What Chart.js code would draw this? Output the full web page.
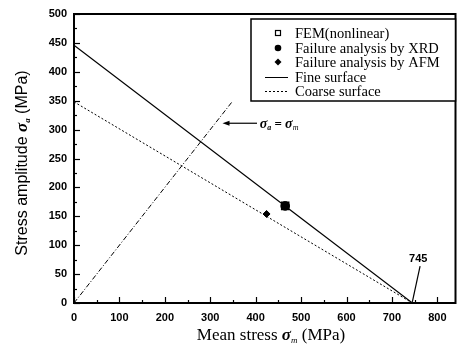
<!DOCTYPE html>
<html>
<head>
<meta charset="utf-8">
<script src="https://cdn.jsdelivr.net/npm/chart.js@4"></script>
<style>
  html, body { margin: 0; padding: 0; background: #fff; }
  #wrap { width: 462px; height: 349px; }
</style>
</head>
<body>
<div id="wrap"><canvas id="goodman"></canvas></div>
<script>
// data (MPa)
const fineX = [0, 745];
const fineY = [446, 0];
const coarseX = [0, 745];
const coarseY = [348, 0];
const equalX = [0, 348];
const equalY = [0, 348];
const femX = [465], femY = [168];
const xrdX = [465], xrdY = [168];
const afmX = [424], afmY = [154];
const xTicks = [0, 100, 200, 300, 400, 500, 600, 700, 800];
const yTicks = [0, 50, 100, 150, 200, 250, 300, 350, 400, 450, 500];
const legendLabels = ['FEM(nonlinear)', 'Failure analysis by XRD', 'Failure analysis by AFM', 'Fine surface', 'Coarse surface'];

function pts(xs, ys) {
    return xs.map((x, i) => ({ x: x, y: ys[i] }));
}

// draw a run of text pieces centred on cx
function drawPieces(ctx, pieces, cx, cy) {
    let total = 0;
    pieces.forEach(p => { ctx.font = p.font; p.w = ctx.measureText(p.text).width; total += p.w; });
    let x = cx - total / 2;
    ctx.textAlign = 'left';
    ctx.textBaseline = 'middle';
    pieces.forEach(p => {
        ctx.font = p.font;
        ctx.fillText(p.text, x, cy + (p.dy || 0));
        x += p.w;
    });
}

const serif = '"Liberation Serif", "DejaVu Serif", serif';
const sans = '"Liberation Sans", Arial, sans-serif';

const extras = {
    id: 'extras',
    afterDatasetsDraw(chart) {
        const ctx = chart.ctx;
        const xs = chart.scales.x, ys = chart.scales.y;
        const a = chart.chartArea;
        ctx.save();
        ctx.strokeStyle = '#000';
        ctx.fillStyle = '#000';

        // inward ticks
        ctx.lineWidth = 1.2;
        for (let v = 0; v <= 840; v += 50) {
            const px = Math.round(xs.getPixelForValue(v)) + 0.5;
            const len = v % 100 === 0 ? 6 : 3;
            ctx.beginPath(); ctx.moveTo(px, a.bottom); ctx.lineTo(px, a.bottom - len); ctx.stroke();
        }
        for (let v = 0; v <= 500; v += 25) {
            const py = Math.round(ys.getPixelForValue(v)) + 0.5;
            const len = v % 50 === 0 ? 6 : 3;
            ctx.beginPath(); ctx.moveTo(a.left, py); ctx.lineTo(a.left + len, py); ctx.stroke();
        }

        // frame
        ctx.lineWidth = 2;
        ctx.strokeRect(a.left, a.top, a.right - a.left, a.bottom - a.top);

        // sigma_a = sigma_m arrow
        const ay = ys.getPixelForValue(311);
        const ax1 = xs.getPixelForValue(327), ax2 = xs.getPixelForValue(403);
        ctx.lineWidth = 1.2;
        ctx.beginPath(); ctx.moveTo(ax2, ay); ctx.lineTo(ax1 + 4, ay); ctx.stroke();
        ctx.beginPath(); ctx.moveTo(ax1, ay); ctx.lineTo(ax1 + 7, ay - 2.5); ctx.lineTo(ax1 + 7, ay + 2.5); ctx.closePath(); ctx.fill();
        drawPieces(ctx, [
            { text: 'σ', font: 'italic bold 14px ' + serif },
            { text: 'a', font: 'italic bold 8px ' + serif, dy: 4 },
            { text: ' = ', font: 'bold 13px ' + serif },
            { text: 'σ', font: 'italic bold 14px ' + serif },
            { text: 'm', font: 'italic 8px ' + serif, dy: 4 }
        ], ax2 + 22, ay + 1);

        // 745 callout
        ctx.lineWidth = 1.2;
        ctx.beginPath();
        ctx.moveTo(xs.getPixelForValue(762), ys.getPixelForValue(64));
        ctx.lineTo(xs.getPixelForValue(745), ys.getPixelForValue(2));
        ctx.stroke();
        ctx.font = 'bold 11px ' + sans;
        ctx.textAlign = 'center';
        ctx.textBaseline = 'middle';
        ctx.fillText('745', xs.getPixelForValue(758), ys.getPixelForValue(76));

        // legend box
        const lx = 251, ly = 19, lw = a.right - lx, lh = 82;
        ctx.fillStyle = '#fff';
        ctx.fillRect(lx, ly, lw, lh);
        ctx.lineWidth = 1.5;
        ctx.strokeRect(lx, ly, lw, lh);
        ctx.fillStyle = '#000';
        const rowY = [33, 48, 62, 77, 91];
        const symX = 278;
        ctx.lineWidth = 1.2;
        ctx.strokeRect(symX - 2.5, rowY[0] - 2.5, 5, 5);
        ctx.beginPath(); ctx.arc(symX, rowY[1], 3.3, 0, Math.PI * 2); ctx.fill();
        ctx.beginPath();
        ctx.moveTo(symX, rowY[2] - 3.5); ctx.lineTo(symX + 3.5, rowY[2]);
        ctx.lineTo(symX, rowY[2] + 3.5); ctx.lineTo(symX - 3.5, rowY[2]);
        ctx.closePath(); ctx.fill();
        ctx.lineWidth = 1;
        ctx.beginPath(); ctx.moveTo(265, rowY[3] + 0.5); ctx.lineTo(288, rowY[3] + 0.5); ctx.stroke();
        ctx.setLineDash([2, 2]);
        ctx.beginPath(); ctx.moveTo(265, rowY[4] + 0.5); ctx.lineTo(288, rowY[4] + 0.5); ctx.stroke();
        ctx.setLineDash([]);
        ctx.font = '14.5px ' + serif;
        ctx.textAlign = 'left';
        ctx.textBaseline = 'middle';
        legendLabels.forEach((t, i) => ctx.fillText(t, 295, rowY[i] + 1));

        // axis titles
        drawPieces(ctx, [
            { text: 'Mean stress ', font: '17px ' + serif },
            { text: 'σ', font: 'italic bold 17px ' + serif },
            { text: 'm', font: 'italic 9px ' + serif, dy: 5 },
            { text: ' (MPa)', font: '17px ' + serif }
        ], 271, 336);

        ctx.translate(23, 163);
        ctx.rotate(-Math.PI / 2);
        drawPieces(ctx, [
            { text: 'Stress amplitude ', font: '16px ' + sans },
            { text: 'σ', font: 'italic bold 17px ' + serif },
            { text: 'a', font: 'italic bold 9px ' + serif, dy: 5 },
            { text: ' (MPa)', font: '16px ' + sans }
        ], 0, 0);
        ctx.restore();
    }
};

const ctx = document.getElementById('goodman');

const chart = new Chart(ctx, {
    type: 'scatter',
    data: {
        datasets: [
            {
                label: 'Fine surface', data: pts(fineX, fineY), showLine: true, order: 3,
                borderColor: '#000', borderWidth: 1.2, pointRadius: 0
            },
            {
                label: 'Coarse surface', data: pts(coarseX, coarseY), showLine: true, order: 3,
                borderColor: '#000', borderWidth: 1, borderDash: [2, 2], pointRadius: 0
            },
            {
                label: 'sa = sm', data: pts(equalX, equalY), showLine: true, order: 3,
                borderColor: '#000', borderWidth: 1, borderDash: [5, 2, 1, 2], pointRadius: 0
            },
            {
                label: 'FEM(nonlinear)', data: pts(femX, femY), order: 2,
                pointStyle: 'rect', pointRadius: 5, borderColor: '#000', borderWidth: 1.5,
                backgroundColor: '#fff'
            },
            {
                label: 'Failure analysis by XRD', data: pts(xrdX, xrdY), order: 1,
                pointStyle: 'circle', pointRadius: 4.3, borderColor: '#000', backgroundColor: '#000'
            },
            {
                label: 'Failure analysis by AFM', data: pts(afmX, afmY), order: 1,
                pointStyle: 'rectRot', pointRadius: 3.5, borderColor: '#000', backgroundColor: '#000'
            }
        ]
    },
    options: {
        responsive: true,
        maintainAspectRatio: false,
        animation: false,
        events: [],
        layout: { padding: { left: 0, right: 1, top: 14, bottom: 0 } },
        plugins: { legend: { display: false }, tooltip: { enabled: false } },
        scales: {
            x: {
                type: 'linear', min: 0, max: 840,
                afterFit: s => { s.height = 46; },
                afterBuildTicks: s => { s.ticks = xTicks.map(v => ({ value: v })); },
                grid: { display: false, drawTicks: false },
                border: { display: false },
                ticks: { includeBounds: false, padding: 8, color: '#000', font: { family: sans, weight: 'bold', size: 11 } }
            },
            y: {
                type: 'linear', min: 0, max: 500,
                afterFit: s => { s.width = 74; },
                afterBuildTicks: s => { s.ticks = yTicks.map(v => ({ value: v })); },
                grid: { display: false, drawTicks: false },
                border: { display: false },
                ticks: { padding: 7, color: '#000', font: { family: sans, weight: 'bold', size: 11 } }
            }
        }
    },
    plugins: [extras]
});
</script>
</body>
</html>
